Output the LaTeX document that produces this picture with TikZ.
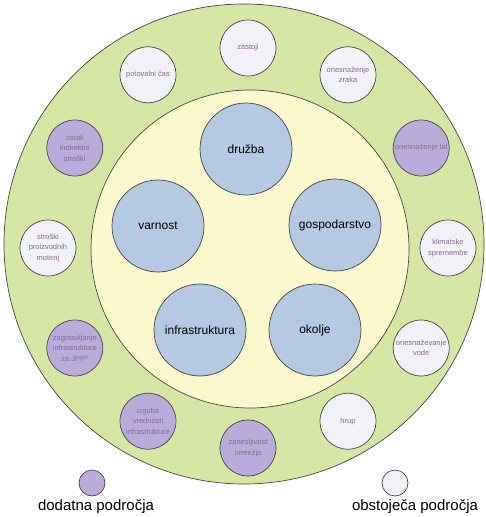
\documentclass[tikz,border=0pt]{standalone}
\usepackage{fontspec}
\setmainfont{Liberation Sans}
\definecolor{ringgreen}{RGB}{214,229,163}
\definecolor{coreyellow}{RGB}{251,248,206}
\definecolor{areablue}{RGB}{181,201,226}
\definecolor{addviolet}{RGB}{185,172,219}
\definecolor{oldwhite}{RGB}{241,241,247}
\definecolor{rimgray}{RGB}{70,70,70}
\definecolor{smalltext}{RGB}{130,110,140}
\begin{document}
\begin{tikzpicture}[x=1pt,y=1pt,line width=0.7pt,
	big/.style={circle,draw=rimgray,fill=areablue,minimum size=92pt,inner sep=0pt,font=\fontsize{12}{14}\selectfont},
	small/.style={circle,draw=rimgray,minimum size=56pt,inner sep=0pt,align=center,text=smalltext,font=\fontsize{7.5}{10.5}\selectfont},
	key/.style={circle,draw=rimgray,minimum size=26pt,inner sep=0pt},
	keytext/.style={font=\fontsize{15}{17}\selectfont}]
	\useasboundingbox (0,0) rectangle (486,-517);
	\coordinate (C) at (248,-248);
	\draw[rimgray,fill=ringgreen] (244,-244) circle (240);
	\draw[rimgray,fill=coreyellow] (250,-249) circle (159);
	\node[big] (druzba) at (246,-149) {družba};
	\node[big] (varnost) at (158,-226) {varnost};
	\node[big] (gosp) at (335,-225) {gospodarstvo};
	\node[big] (infra) at (200,-330) {infrastruktura};
	\node[big] (okolje) at (315,-330) {okolje};
	\begin{scope}[shift={(C)}]
	\foreach \a/\c/\t in {0/oldwhite/{klimatske\\spremembe},
		30/addviolet/{onesnaženje tal},
		60/oldwhite/{onesnaženje\\zraka},
		90/oldwhite/{zastoji},
		120/oldwhite/{potovalni čas},
		150/addviolet/{ostali\\indirektni\\stroški},
		180/oldwhite/{stroški\\proizvodnih\\motenj},
		210/addviolet/{zagotavljanje\\infrastrukture\\za JPP*},
		240/addviolet/{izguba\\vrednosti\\infrastrukture},
		270/addviolet/{zanesljivost\\omrežja},
		300/oldwhite/{hrup},
		330/oldwhite/{onesnaževanje\\vode}}
		\node[small,fill=\c] (s\a) at (\a:200) {\t};
	\end{scope}
	\node[key,fill=addviolet] (kdod) at (92,-483) {};
	\node[keytext] (tdod) at (96,-507) {dodatna področja};
	\node[key,fill=oldwhite] (kobs) at (395,-483) {};
	\node[keytext] (tobs) at (415,-507) {obstoječa področja};
\end{tikzpicture}
\end{document}
